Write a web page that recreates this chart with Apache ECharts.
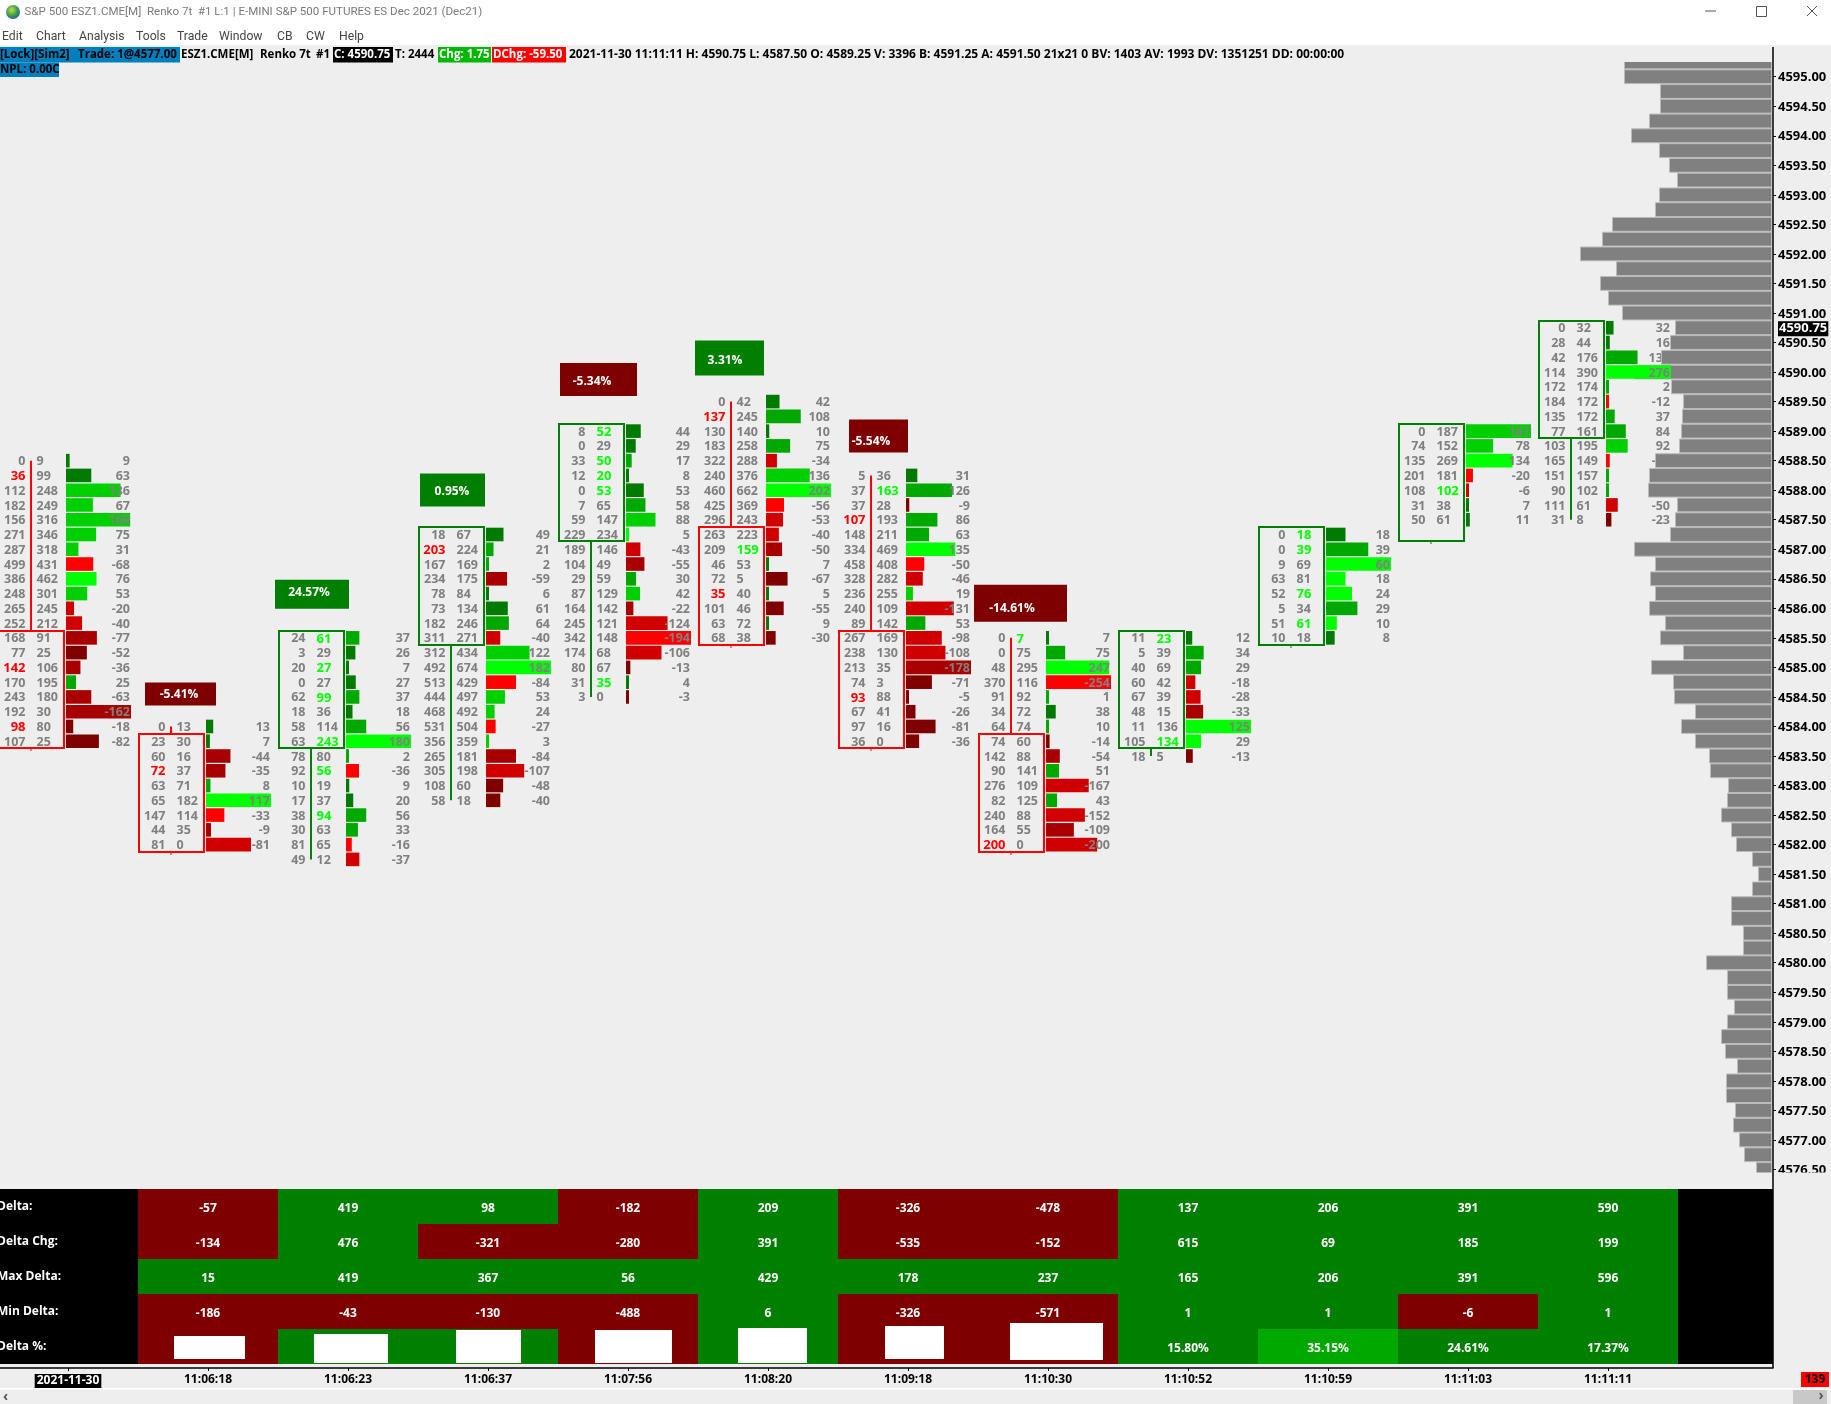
<!DOCTYPE html>
<html><head><meta charset="utf-8">
<style>html,body{margin:0;padding:0;background:#eee}#c{position:absolute;left:0;top:0;width:1831px;height:1404px}</style>
<script src="https://cdn.jsdelivr.net/npm/echarts@6/dist/echarts.min.js"></script>
</head><body><div id="c"></div>
<script>
// ---------- DATA ----------
const timeLabels = ['2021-11-30','11:06:18','11:06:23','11:06:37','11:07:56','11:08:20','11:09:18','11:10:30','11:10:52','11:10:59','11:11:03','11:11:11'];
const topPrices = [4588.5,4584,4585.5,4587.25,4589,4589.5,4588.25,4585.5,4585.5,4587.25,4589,4590.75];
const boxTops    = [4585.5,4583.75,4585.5,4587.25,4589,4587.25,4585.5,4583.75,4585.5,4587.25,4589,4590.75];
const boxBottoms = [4583.75,4582,4583.75,4585.5,4587.25,4585.5,4583.75,4582,4583.75,4585.5,4587.25,4589];
const boxUp = [0,0,1,1,1,0,0,0,1,1,1,1];
const bidVolumes = [
 [0,36,112,182,156,271,287,499,386,248,265,252,168,77,142,170,243,192,98,107],
 [0,23,60,72,63,65,147,44,81],
 [24,3,20,0,62,18,58,63,78,92,10,17,38,30,81,49],
 [18,203,167,234,78,73,182,311,312,492,513,444,468,531,356,265,305,108,58],
 [8,0,33,12,0,7,59,229,189,104,29,87,164,245,342,174,80,31,3],
 [0,137,130,183,322,240,460,425,296,263,209,46,72,35,101,63,68],
 [5,37,37,107,148,334,458,328,236,240,89,267,238,213,74,93,67,97,36],
 [0,0,48,370,91,34,64,74,142,90,276,82,240,164,200],
 [11,5,40,60,67,48,11,105,18],
 [0,0,9,63,52,5,51,10],
 [0,74,135,201,108,31,50],
 [0,28,42,114,172,184,135,77,103,165,151,90,111,31]
];
const askVolumes = [
 [9,99,248,249,316,346,318,431,462,301,245,212,91,25,106,195,180,30,80,25],
 [13,30,16,37,71,182,114,35,0],
 [61,29,27,27,99,36,114,243,80,56,19,37,94,63,65,12],
 [67,224,169,175,84,134,246,271,434,674,429,497,492,504,359,181,198,60,18],
 [52,29,50,20,53,65,147,234,146,49,59,129,142,121,148,68,67,35,0],
 [42,245,140,258,288,376,662,369,243,223,159,53,5,40,46,72,38],
 [36,163,28,193,211,469,408,282,255,109,142,169,130,35,3,88,41,16,0],
 [7,75,295,116,92,72,74,60,88,141,109,125,88,55,0],
 [23,39,69,42,39,15,136,134,5],
 [18,39,69,81,76,34,61,18],
 [187,152,269,181,102,38,61],
 [32,44,176,390,174,172,172,161,195,149,157,102,61,8]
];
const intensity = [
 [1,1,3,3,3,3,3,4,4,3,3,3,2,1,2,2,2,2,1,1],
 [1,1,2,2,2,4,4,2,3],
 [2,1,1,1,2,1,2,4,2,4,1,1,2,2,4,3],
 [1,2,2,2,1,1,2,3,3,4,4,3,3,4,3,2,3,1,1],
 [1,1,2,1,1,2,3,4,3,2,2,3,2,3,4,3,1,1,1],
 [1,2,1,2,3,3,4,4,3,3,2,1,1,1,1,1,1],
 [1,2,1,2,2,4,4,3,3,3,2,3,3,2,1,1,1,1,1],
 [1,2,4,4,2,1,2,1,2,2,3,2,3,2,3],
 [1,2,2,3,3,2,4,4,1],
 [1,2,4,4,4,2,4,1],
 [3,3,4,4,3,1,1],
 [1,1,2,4,2,4,2,2,3,4,2,2,3,1]
];
const bidImbalanceRows = [[1,14,18],[3],[],[1],[],[1,13],[3,15],[14],[],[],[],[]];
const askImbalanceRows = [[],[],[0,2,4,7,9,12],[],[0,2,3,4,17],[10],[1],[0],[0,7],[0,1,4,6],[4],[]];

const profileTopPrice = 4595.25;
const profileVolumes = [1470,1470,1110,1110,1220,1400,1120,1020,940,1120,1160,1590,1690,1910,1550,1710,1630,1490,
 960,1010,1100,1370,1000,880,890,900,920,1160,1220,1230,940,960,1010,
 1370,1160,1210,1160,1220,1060,1110,880,1200,980,970,760,900,760,620,610,430,440,500,400,350,190,130,190,
 400,400,280,280,650,440,440,370,440,500,460,340,450,450,360,380,320,270,150];
const priceTicks = [4595,4594.5,4594,4593.5,4593,4592.5,4592,4591.5,4591,4590.5,4590,4589.5,4589,4588.5,4588,4587.5,4587,4586.5,4586,4585.5,4585,4584.5,4584,4583.5,4583,4582.5,4582,4581.5,4581,4580.5,4580,4579.5,4579,4578.5,4578,4577.5,4577,4576.5];
const lastPrice = 4590.75;

const rowLabels = ['Delta:','Delta Chg:','Max Delta:','Min Delta:','Delta %:'];
const deltaRow    = [-57,419,98,-182,209,-326,-478,137,206,391,590];
const deltaChgRow = [-134,476,-321,-280,391,-535,-152,615,69,185,199];
const maxDeltaRow = [15,419,367,56,429,178,237,165,206,391,596];
const minDeltaRow = [-186,-43,-130,-488,6,-326,-571,1,1,-6,1];
const deltaPctRow = [-5.41,24.57,0.95,-5.34,3.31,-5.54,-14.61,15.80,35.15,24.61,17.37];

// ---------- LAYOUT / STYLE ----------
const W = 1831, PLOT_R = 1773, SLOT = 140, GRID_L = -2;
const FONT = '"Open Sans","Noto Sans",sans-serif';
const NUM = 'bold 12.5px ' + FONT;
const BG = '#EEEEEE', GREY = '#808080';
const GREENS = ['#007A00','#00A800','#00D000','#00FF00'];
const REDS = ['#7F0000','#A80000','#D00000','#FF0000'];
const TEXT_NUDGE = 1;
const noteLayout = [
 {dx:7,  dy:-44,w:71,h:23,tx:41,ty:-32,cx:36,cy:7},
 {dx:-3, dy:-58,w:74,h:29,tx:31,ty:-45,cx:36,cy:5},
 {dx:2,  dy:-61,w:65,h:33,tx:34,ty:-43,cx:38,cy:1},
 {dx:2,  dy:-68,w:77,h:33,tx:34,ty:-50,cx:37,cy:1},
 {dx:-3, dy:-61,w:69,h:35,tx:27,ty:-41,cx:40,cy:-1},
 {dx:11, dy:-56,w:59,h:33,tx:33,ty:-34,cx:47,cy:-3},
 {dx:-4, dy:-53,w:93,h:37,tx:34,ty:-29,cx:32,cy:-6}
];

// ---------- derived series data ----------
const bidData=[], askData=[], deltaBarData=[], deltaTextHigh=[], deltaTextLow=[], bodyData=[];
topPrices.forEach((top,i)=>{
  const deltas = bidVolumes[i].map((b,r)=>askVolumes[i][r]-b);
  const maxAbs = Math.max(...deltas.map(Math.abs));
  deltas.forEach((d,r)=>{
    const p = top - r*0.25;
    bidData.push([i,p,bidVolumes[i][r],bidImbalanceRows[i].includes(r)?1:0]);
    askData.push([i,p,askVolumes[i][r],askImbalanceRows[i].includes(r)?1:0]);
    deltaBarData.push([i,p,d,maxAbs,intensity[i][r]]);
    const under = (i===topPrices.length-1 && Math.abs(d)<maxAbs);
    (under?deltaTextLow:deltaTextHigh).push([i,p,d]);
  });
  const low = Math.min(top-(bidVolumes[i].length-1)*0.25, boxBottoms[i]);
  bodyData.push([i,top,low,boxTops[i],boxBottoms[i],boxUp[i]]);
});
const profileData = profileVolumes.map((v,k)=>[v,profileTopPrice-k*0.25]);
const tableRows = [deltaRow,deltaChgRow,maxDeltaRow,minDeltaRow,deltaPctRow];
const tableData=[];
tableRows.forEach((row,r)=>row.forEach((v,c)=>tableData.push([c+1,r,v])));

function textEl(x,y,text,fill,font,align){
  return {type:'text',silent:true,style:{x,y,text:String(text),fill,font,textAlign:align,textVerticalAlign:'middle',align:align,verticalAlign:'middle'}};
}
function volText(side){
  return function(params,api){
    const i=api.value(0), c=api.coord([i,api.value(1)]);
    const hot=api.value(3);
    const col= hot ? (side==='bid'?'#FF0000':'#00FF00') : GREY;
    const x = side==='bid' ? c[0]+27.5 : c[0]+38.5;
    return textEl(x,c[1]+TEXT_NUDGE,api.value(2),col,hot?('bold 13px '+FONT):NUM,side==='bid'?'right':'left');
  };
}
function deltaText(params,api){
  const c=api.coord([api.value(0),api.value(1)]);
  return textEl(c[0]+132,c[1]+TEXT_NUDGE,api.value(2),GREY,NUM,'right');
}

// chrome
const g=[];
function R(x,y,w,h,fill,z){g.push({type:'rect',silent:true,z:z||60,shape:{x,y,width:w,height:h},style:{fill}});}
function T(x,y,text,fill,font,align){g.push({type:'text',silent:true,z:70,x,y,style:{text,fill,font,textAlign:align||'left',textVerticalAlign:'middle',align:align||'left',verticalAlign:'middle'}});}
function L(x1,y1,x2,y2,stroke,lw,z){g.push({type:'line',silent:true,z:z||65,shape:{x1,y1,x2,y2},style:{stroke,lineWidth:lw}});}
const HB='bold 12px '+FONT, HS='bold 11.5px '+FONT, UI='12.2px Roboto,'+FONT;
R(0,0,W,45,'#FFFFFF');
R(0,1172.5,W,16.5,BG);
g.push({type:'circle',silent:true,z:70,shape:{cx:13,cy:12,r:7},style:{fill:{type:'radial',x:0.4,y:0.35,r:0.7,colorStops:[{offset:0,color:'#B8E04A'},{offset:0.6,color:'#3F9A4A'},{offset:1,color:'#1F5FA8'}]}}});
T(24.5,12,'S&P 500 ESZ1.CME[M]  Renko 7t  #1 L:1 | E-MINI S&P 500 FUTURES ES Dec 2021 (Dec21)','#7A7A7A','11.55px Roboto,'+FONT);
[['Edit',2],['Chart',36],['Analysis',79],['Tools',136],['Trade',177],['Window',219],['CB',277],['CW',306],['Help',339]].forEach(m=>T(m[1],37,m[0],'#444444',UI));
L(1705,11,1716,11,'#555',1);
g.push({type:'rect',silent:true,z:70,shape:{x:1756.5,y:6.5,width:10,height:10},style:{fill:'none',stroke:'#555',lineWidth:1}});
L(1807,6,1817,16,'#555',1);L(1817,6,1807,16,'#555',1);
// info line
R(0,47,180,15.5,'#007FBF');R(0,62.5,59,14.5,'#007FBF');
R(333,47,60,15.5,'#000000');R(438,47,53,15.5,'#00B800');R(492,47,74,15.5,'#FF0000');
T(0,55,'[Lock][Sim2]','#000',HS);
T(78,55,'Trade: 1@4577.00','#000',HS);
T(181,55,'ESZ1.CME[M]','#000',HS);
T(260,55,'Renko 7t','#000',HS);
T(316,55,'#1','#000',HS);
T(334,55,'C: 4590.75','#FFF',HS);
T(395,55,'T: 2444','#000',HS);
T(439,55,'Chg: 1.75','#FFF',HS);
T(493,55,'DChg: -59.50','#FFF',HS);
T(569,55,'2021-11-30 11:11:11 H: 4590.75 L: 4587.50 O: 4589.25 V: 3396 B: 4591.25 A: 4591.50 21x21 0 BV: 1403 AV: 1993 DV: 1351251 DD: 00:00:00','#000',HB);
T(0,70,'NPL: 0.00C','#000',HS);
// frame + bottom
L(PLOT_R,47,PLOT_R,1368,'#000',1.5,75);
R(0,1388,W,1.5,'#FFFFFF');
R(1793,1390,34,14,'#C8C8C8');
T(3,1397,'‹','#555','bold 14px '+FONT);
T(1821,1396,'›','#555','bold 14px '+FONT,'center');
R(1801,1372,28,15,'#FF0000');
T(1815,1380,'139','#000',HB,'center');

const option={
  animation:false,
  backgroundColor:BG,
  textStyle:{fontFamily:FONT},
  graphic:{elements:g},
  grid:[
    {left:GRID_L,right:W-PLOT_R,top:61.93,height:1137.1,show:false,outerBoundsMode:'none',containLabel:false},
    {left:GRID_L,right:W-PLOT_R,top:1189,height:175,show:true,backgroundColor:'#000',borderWidth:0,outerBoundsMode:'none',containLabel:false}
  ],
  xAxis:[
    {gridIndex:0,type:'value',min:0,max:1775/SLOT,show:false,splitLine:{show:false}},
    {gridIndex:0,type:'value',inverse:true,min:-15,max:17735,show:false,splitLine:{show:false}},
    {gridIndex:1,type:'value',min:0,max:1775/SLOT,offset:4,position:'bottom',splitLine:{show:false},
      axisLine:{show:true,onZero:false,lineStyle:{color:'#000',width:1.5}},
      axisTick:{show:true,length:3,lineStyle:{color:'#000'},customValues:timeLabels.map((t,i)=>i+0.5)},
      axisLabel:{show:true,margin:6,color:'#000',fontWeight:'bold',fontSize:12,fontFamily:FONT,
        customValues:timeLabels.map((t,i)=>i+0.5),
        formatter:v=>{const i=Math.floor(v);return i===0?'{d|'+timeLabels[0]+'}':timeLabels[i];},
        rich:{d:{color:'#FFF',backgroundColor:'#000',fontWeight:'bold',fontSize:12,fontFamily:FONT,padding:[1,2,1,2]}}}}
  ],
  yAxis:[
    {gridIndex:0,type:'value',position:'right',min:4576,max:4595.25,splitLine:{show:false},
      axisLine:{show:false,onZero:false},
      axisTick:{show:true,length:3,lineStyle:{color:'#000'},customValues:priceTicks},
      axisLabel:{show:true,margin:5,color:'#000',fontWeight:'bold',fontSize:13,fontFamily:FONT,padding:[2,0,0,0],
        customValues:priceTicks.concat([lastPrice]),
        formatter:v=>v===lastPrice?'{cur|'+v.toFixed(2)+'}':v.toFixed(2),
        rich:{cur:{color:'#FFF',backgroundColor:'#000',fontWeight:'bold',fontSize:13,fontFamily:FONT,padding:[1,1,1,1]}}}},
    {gridIndex:1,type:'category',inverse:true,data:rowLabels,position:'left',
      axisLine:{show:false,onZero:false},axisTick:{show:false},splitLine:{show:false},
      axisLabel:{show:true,inside:true,margin:-1,align:'left',color:'#FFF',fontWeight:'bold',fontSize:12,fontFamily:FONT,padding:[4,0,0,0]}}
  ],
  series:[
    {type:'custom',name:'DeltaTextUnder',z:3,xAxisIndex:0,yAxisIndex:0,data:deltaTextLow,renderItem:deltaText,encode:{x:0,y:1}},
    {type:'custom',name:'VolumeProfile',z:4,xAxisIndex:1,yAxisIndex:0,clip:true,data:profileData,encode:{x:0,y:1},
      renderItem:(p,api)=>{const a=api.coord([0,api.value(1)]),b=api.coord([api.value(0),api.value(1)]);
        return {type:'rect',shape:{x:b[0],y:a[1]-6.9,width:a[0]-b[0],height:13.8},style:{fill:GREY,stroke:'#BBBBBB',lineWidth:1}};}},
    {type:'custom',name:'Candles',z:5,xAxisIndex:0,yAxisIndex:0,data:bodyData,encode:{x:0,y:[1,2]},
      renderItem:(p,api)=>{
        const i=api.value(0),c=api.value(5)?'#007F00':'#FF0000';
        const hi=api.coord([i,api.value(1)]),lo=api.coord([i,api.value(2)]),bt=api.coord([i,api.value(3)]),bb=api.coord([i,api.value(4)]);
        const x=hi[0], top=Math.round(bt[1]-7), bot=Math.round(bb[1]+7), ch=[];
        ch.push({type:'rect',shape:{x:x+1,y:top,width:65,height:bot-top},style:{fill:'none',stroke:c,lineWidth:2}});
        if(hi[1]<top) ch.push({type:'line',shape:{x1:x+33,y1:hi[1],x2:x+33,y2:top},style:{stroke:c,lineWidth:2}});
        if(lo[1]>bb[1]) ch.push({type:'line',shape:{x1:x+33,y1:bot,x2:x+33,y2:lo[1]},style:{stroke:c,lineWidth:2}});
        else ch.push({type:'line',shape:{x1:x+33,y1:bot,x2:x+33,y2:bot+3},style:{stroke:c,lineWidth:1}});
        return {type:'group',children:ch};
      }},
    {type:'custom',name:'DeltaBars',z:6,xAxisIndex:0,yAxisIndex:0,data:deltaBarData,encode:{x:0,y:1},
      renderItem:(p,api)=>{
        const c=api.coord([api.value(0),api.value(1)]),d=api.value(2),m=api.value(3),lvl=api.value(4);
        const w=Math.max(3,65*Math.abs(d)/m);
        return {type:'rect',shape:{x:c[0]+68,y:c[1]-6.8,width:w,height:13.6},style:{fill:(d>=0?GREENS:REDS)[lvl-1]}};
      }},
    {type:'custom',name:'DeltaText',z:7,xAxisIndex:0,yAxisIndex:0,data:deltaTextHigh,renderItem:deltaText,encode:{x:0,y:1}},
    {type:'custom',name:'BidVolume',z:7,xAxisIndex:0,yAxisIndex:0,data:bidData,renderItem:volText('bid'),encode:{x:0,y:1}},
    {type:'custom',name:'AskVolume',z:7,xAxisIndex:0,yAxisIndex:0,data:askData,renderItem:volText('ask'),encode:{x:0,y:1}},
    {type:'custom',name:'Notes',z:8,xAxisIndex:0,yAxisIndex:0,data:noteLayout.map((n,k)=>[k+1,topPrices[k+1],deltaPctRow[k]]),encode:{x:0,y:1},
      renderItem:(p,api)=>{
        const k=api.value(0),n=noteLayout[k-1],c=api.coord([k,api.value(1)]),v=api.value(2);
        return {type:'group',children:[
          {type:'rect',shape:{x:c[0]+n.dx,y:c[1]+n.dy,width:n.w,height:n.h},style:{fill:v>=0?'#007F00':'#7F0000'}},
          textEl(c[0]+n.tx,c[1]+n.ty,v.toFixed(2)+'%','#FFFFFF','bold 12px '+FONT,'center')
        ]};
      }},
    {type:'custom',name:'Table',z:3,xAxisIndex:2,yAxisIndex:1,data:tableData,encode:{x:0,y:1},
      renderItem:(p,api)=>{
        const c=api.value(0),r=api.value(1),v=api.value(2);
        const a=api.coord([c,r]),b=api.coord([c+1,r]),h=35;
        const isPct=r===4;
        let fill=v>=0?'#007F00':'#7F0000';
        if(isPct&&v>30) fill='#00A800';
        const ch=[{type:'rect',shape:{x:a[0],y:a[1]-h/2,width:b[0]-a[0],height:h},style:{fill,lineWidth:0}}];
        if(!(isPct&&c-1<noteLayout.length))
          ch.push(textEl((a[0]+b[0])/2,a[1]+1+TEXT_NUDGE,isPct?v.toFixed(2)+'%':v,'#FFFFFF','bold 12px '+FONT,'center'));
        return {type:'group',children:ch};
      }},
    {type:'custom',name:'TableNotes',z:4,xAxisIndex:2,yAxisIndex:1,data:noteLayout.map((n,k)=>[k+1,4]),encode:{x:0,y:1},
      renderItem:(p,api)=>{
        const k=api.value(0),n=noteLayout[k-1],a=api.coord([k,4]);
        return {type:'rect',shape:{x:a[0]+n.cx,y:a[1]-17.5+n.cy,width:n.w,height:n.h},style:{fill:'#FFFFFF'}};
      }}
  ]
};
const chart=echarts.init(document.getElementById('c'),null,{renderer:'canvas',width:1831,height:1404});
chart.setOption(option);
</script></body></html>
